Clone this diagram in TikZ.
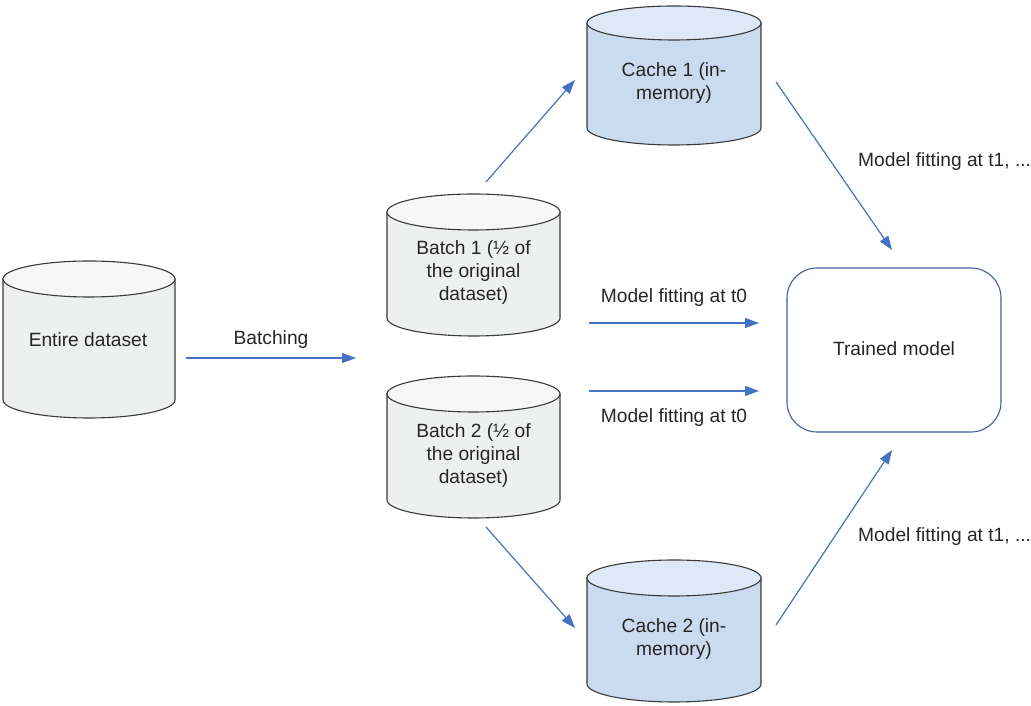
\documentclass[tikz,border=0pt]{standalone}
\usepackage{fontspec}
\setmainfont{Liberation Sans}
\usetikzlibrary{arrows.meta}
\definecolor{grbody}{HTML}{EEF0EF}
\definecolor{grtop}{HTML}{F6F7F6}
\definecolor{blbody}{HTML}{CADAEF}
\definecolor{bltop}{HTML}{DEE9F7}
\definecolor{edge}{HTML}{3A3A3A}
\definecolor{arrowblue}{HTML}{4472C4}
\definecolor{boxblue}{HTML}{3D5F9A}
\newcommand\mycyl[7]{% x1 x2 Ytop Ybot ry bodycol topcol
  \pgfmathsetmacro\rxx{(#2-#1)/2}
  \filldraw[draw=edge,line width=1.1pt,fill=#6] (#1,#4) -- (#1,#3) -- (#2,#3) -- (#2,#4)
     arc[start angle=0,end angle=-180,x radius=\rxx,y radius=#5] -- cycle;
  \filldraw[draw=edge,line width=1.1pt,fill=#7] ({(#1+#2)/2},#3) ellipse[x radius=\rxx,y radius=#5];
}
\tikzset{
  lbl/.style={font=\fontsize{19.2}{23}\selectfont,align=center,text=black!85,inner sep=0pt},
  conn/.style={draw=arrowblue,line width=1.2pt,-{Triangle[length=14pt,width=10pt]}}
}
\begin{document}
\begin{tikzpicture}[x=1pt,y=1pt]
\useasboundingbox (0,0) rectangle (1031,706);
% cylinders
\mycyl{3}{175}{427}{306}{18}{grbody}{grtop}
\mycyl{387}{560}{494}{388}{18}{grbody}{grtop}
\mycyl{387}{560}{312}{206}{18}{grbody}{grtop}
\mycyl{587}{761}{683}{578}{17}{blbody}{bltop}
\mycyl{587}{761}{128}{22}{18}{blbody}{bltop}
\node[lbl] (entire) at (88,366) {Entire dataset};
\node[lbl] (b1) at (473.5,433) {Batch 1 (½ of\\the original\\dataset)};
\node[lbl] (b2) at (473.5,250) {Batch 2 (½ of\\the original\\dataset)};
\node[lbl] (c1) at (674,622.5) {Cache 1 (in-\\memory)};
\node[lbl] (c2) at (674,66.5) {Cache 2 (in-\\memory)};
\node[draw=boxblue,line width=1.1pt,rounded corners=30pt,minimum width=214pt,minimum height=164pt,inner sep=0pt] (tm) at (894,356) {};
\node[lbl] (tmtext) at (894,357) {Trained model};
% connector endpoints
\coordinate (a1s) at (186,348); \coordinate (a1e) at (356,348);
\coordinate (a2s) at (486,524); \coordinate (a2e) at (575,626);
\coordinate (a3s) at (486,179); \coordinate (a3e) at (575,78);
\coordinate (a4s) at (589,383); \coordinate (a4e) at (759,383);
\coordinate (a5s) at (589,315); \coordinate (a5e) at (759,315);
\coordinate (a6s) at (776,624); \coordinate (a6e) at (892,456);
\coordinate (a7s) at (776,81); \coordinate (a7e) at (892,256);
\draw[conn] (a1s) -- (a1e);
\draw[conn] (a2s) -- (a2e);
\draw[conn] (a3s) -- (a3e);
\draw[conn] (a4s) -- (a4e);
\draw[conn] (a5s) -- (a5e);
\draw[conn] (a6s) -- (a6e);
\draw[conn] (a7s) -- (a7e);
\node[lbl] (l1) at (271,366) {Batching};
\node[lbl] (l2) at (674,408) {Model fitting at t0};
\node[lbl] (l3) at (674,288) {Model fitting at t0};
\node[lbl,anchor=west] (l4) at (858,544) {Model fitting at t1, ...};
\node[lbl,anchor=west] (l5) at (858,169) {Model fitting at t1, ...};
\end{tikzpicture}
\end{document}
